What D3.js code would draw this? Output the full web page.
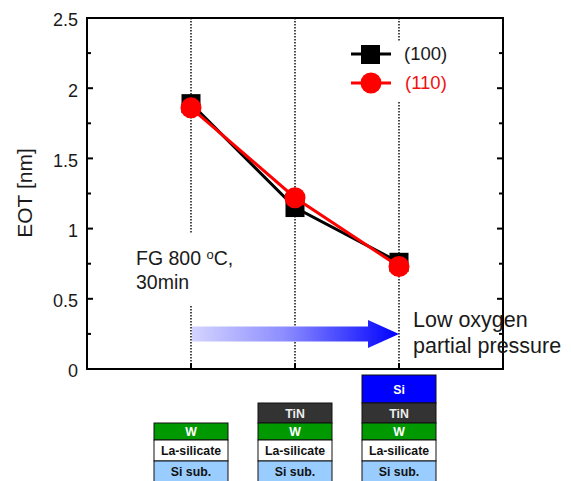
<!DOCTYPE html>
<html>
<head>
<meta charset="utf-8">
<script src="https://cdn.jsdelivr.net/npm/d3@7"></script>
<style>
  html, body { margin: 0; padding: 0; background: #fff; }
  svg { display: block; }
  text { font-family: "Liberation Sans", Arial, sans-serif; }
</style>
</head>
<body>
<svg id="chart" width="571" height="481"></svg>
<script>
const conditions = ["W", "W/TiN", "W/TiN/Si"];
const eot100 = [1.89, 1.15, 0.76];
const eot110 = [1.86, 1.22, 0.73];
const yTicks = [0, 0.5, 1, 1.5, 2, 2.5];
const yMinorTicks = [0.25, 0.75, 1.25, 1.75, 2.25];
const stackW = ["W", "La-silicate", "Si sub."];
const stackTiN = ["TiN", "W", "La-silicate", "Si sub."];
const stackSi = ["Si", "TiN", "W", "La-silicate", "Si sub."];
const stacks = [stackW, stackTiN, stackSi];

const margin = { top: 18, left: 87, bottom: 369, right: 503 };
const svg = d3.select("#chart");

const x = d3.scalePoint().domain(conditions).range([margin.left, margin.right]).padding(1);
const y = d3.scaleLinear().domain([0, 2.5]).range([margin.bottom, margin.top]);

// dotted guides first, the boxes below blank parts of them out
svg.selectAll(".guide").data(conditions).enter().append("line")
  .attr("x1", d => x(d)).attr("x2", d => x(d))
  .attr("y1", margin.top).attr("y2", margin.bottom)
  .attr("stroke", "#000").attr("stroke-width", 1.4).attr("stroke-dasharray", "1.5 1.5");

svg.append("rect").attr("x", 130).attr("y", 233).attr("width", 125).attr("height", 72).attr("fill", "#fff");
svg.append("rect").attr("x", 340).attr("y", 41).attr("width", 115).attr("height", 60).attr("fill", "#fff");

// frame and ticks
const axisLeft = d3.axisLeft(y).tickValues(yTicks).tickFormat(d3.format("~g")).tickSize(0).tickPadding(9);
const gy = svg.append("g").attr("transform", `translate(${margin.left},0)`).call(axisLeft);
gy.select(".domain").remove();
gy.selectAll("text").attr("font-size", 18).attr("fill", "#1a1a1a").attr("dy", "0.44em")
  .attr("font-family", '"Liberation Sans", Arial, sans-serif');

const tickLine = (vals, len) => {
  svg.append("g").selectAll("line").data(vals).enter().append("line")
    .attr("x1", margin.left).attr("x2", margin.left + len)
    .attr("y1", d => y(d)).attr("y2", d => y(d))
    .attr("stroke", "#000").attr("stroke-width", 2);
  svg.append("g").selectAll("line").data(vals).enter().append("line")
    .attr("x1", margin.right).attr("x2", margin.right - len)
    .attr("y1", d => y(d)).attr("y2", d => y(d))
    .attr("stroke", "#000").attr("stroke-width", 2);
};
tickLine(yTicks, 6);
tickLine(yMinorTicks, 4);

svg.selectAll(".xtick").data(conditions).enter().append("line")
  .attr("x1", d => x(d)).attr("x2", d => x(d))
  .attr("y1", margin.bottom).attr("y2", margin.bottom - 6)
  .attr("stroke", "#000").attr("stroke-width", 2);

svg.append("rect")
  .attr("x", margin.left).attr("y", margin.top)
  .attr("width", margin.right - margin.left).attr("height", margin.bottom - margin.top)
  .attr("fill", "none").attr("stroke", "#000").attr("stroke-width", 2);

svg.append("text")
  .attr("transform", "translate(32,193) rotate(-90)")
  .attr("text-anchor", "middle").attr("font-size", 21).attr("fill", "#1a1a1a")
  .text("EOT [nm]");

// gradient arrow
const grad = svg.append("defs").append("linearGradient").attr("id", "arrowFill");
grad.append("stop").attr("offset", "0%").attr("stop-color", "#d4d4ff");
grad.append("stop").attr("offset", "45%").attr("stop-color", "#8c8cff");
grad.append("stop").attr("offset", "100%").attr("stop-color", "#0000ff");
const ax0 = x(conditions[0]) + 1, ax1 = x(conditions[2]), ay = 334;
svg.append("path")
  .attr("d", `M${ax0},${ay - 7.5}H${ax1 - 31}V${ay - 14}L${ax1},${ay}L${ax1 - 31},${ay + 14}V${ay + 7.5}H${ax0}Z`)
  .attr("fill", "url(#arrowFill)");

// series
const line = d3.line().x((d, i) => x(conditions[i])).y(d => y(d));
svg.append("path").attr("d", line(eot100)).attr("fill", "none").attr("stroke", "#000").attr("stroke-width", 3);
svg.selectAll(".m100").data(eot100).enter().append("rect")
  .attr("x", (d, i) => x(conditions[i]) - 9.5).attr("y", d => y(d) - 9.5)
  .attr("width", 19).attr("height", 19).attr("fill", "#000");
svg.append("path").attr("d", line(eot110)).attr("fill", "none").attr("stroke", "#f00").attr("stroke-width", 3);
svg.selectAll(".m110").data(eot110).enter().append("circle")
  .attr("cx", (d, i) => x(conditions[i])).attr("cy", d => y(d))
  .attr("r", 10.5).attr("fill", "#f00");

// legend
svg.append("line").attr("x1", 351).attr("x2", 391).attr("y1", 54).attr("y2", 54).attr("stroke", "#000").attr("stroke-width", 3);
svg.append("rect").attr("x", 361).attr("y", 45).attr("width", 19).attr("height", 19).attr("fill", "#000");
svg.append("line").attr("x1", 351).attr("x2", 391).attr("y1", 83).attr("y2", 83).attr("stroke", "#f00").attr("stroke-width", 3);
svg.append("circle").attr("cx", 371).attr("cy", 83).attr("r", 10.5).attr("fill", "#f00");
svg.append("text").attr("x", 404).attr("y", 60).attr("font-size", 18.5).attr("fill", "#1a1a1a").text("(100)");
svg.append("text").attr("x", 405).attr("y", 89).attr("font-size", 18.5).attr("fill", "#f01010").text("(110)");

// annotations
const note = (tx, ty, str, size) => svg.append("text").attr("x", tx).attr("y", ty).attr("font-size", size).attr("fill", "#1a1a1a").text(str);
const fg = note(136, 265, "FG 800 ", 19.5);
fg.append("tspan").attr("font-size", 13).attr("dy", -6).text("o");
fg.append("tspan").attr("dy", 6).text("C,");
note(136, 289, "30min", 19.5);
note(413, 327, "Low oxygen", 21.5);
note(413, 353, "partial pressure", 21.5);

// gate stacks, bottom aligned under each condition
const layerStyle = {
  "Si": { fill: "#0000ff", text: "#fff", h: 28 },
  "TiN": { fill: "#333333", text: "#eee", h: 20 },
  "W": { fill: "#009900", text: "#fff", h: 17 },
  "La-silicate": { fill: "#ffffff", text: "#111", h: 21 },
  "Si sub.": { fill: "#99ccff", text: "#111", h: 21 }
};
stacks.forEach((layers, i) => {
  let top = 482 - d3.sum(layers, l => layerStyle[l].h);
  const cx = x(conditions[i]);
  const g = svg.append("g");
  layers.forEach(l => {
    const s = layerStyle[l];
    g.append("rect").attr("x", cx - 37).attr("y", top).attr("width", 74).attr("height", s.h)
      .attr("fill", s.fill).attr("stroke", "#111").attr("stroke-width", 1);
    g.append("text").attr("x", cx).attr("y", top + s.h / 2 + 4.5)
      .attr("text-anchor", "middle").attr("font-size", 12.3).attr("font-weight", "bold")
      .attr("fill", s.text).text(l);
    top += s.h;
  });
});
</script>
</body>
</html>
